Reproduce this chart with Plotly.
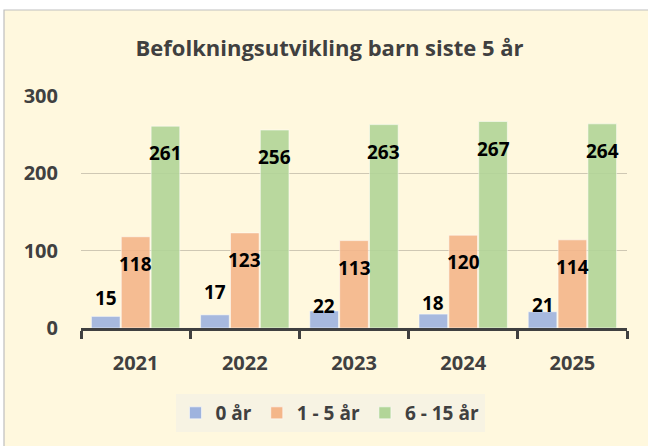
import plotly.graph_objects as go

years = ["2021", "2022", "2023", "2024", "2025"]
age_0 = [15, 17, 22, 18, 21]
age_1_5 = [118, 123, 113, 120, 114]
age_6_15 = [261, 256, 263, 267, 264]
series_names = ["0 år", "1 - 5 år", "6 - 15 år"]
y_ticks = [0, 100, 200, 300]

# label nudges (pixels) for the "0 år" labels, which sit above their bars
zero_label_lift = [18, 23, 5, 11, 7]

W, H = 648, 446
ML, MR, MT, MB = 81, 21, 96, 118
BARGAP, GROUPGAP = 0.18, 0.04
FONT = "Open Sans"
DARK = "#404040"

colors = ["#9EB3DE", "#F4B68A", "#B2D598"]
series = [age_0, age_1_5, age_6_15]

fig = go.Figure()
for name, vals, col in zip(series_names, series, colors):
    fig.add_trace(go.Bar(
        x=years, y=vals, name=name,
        marker=dict(color=col, opacity=0.9,
                    line=dict(color="rgba(255,255,255,0.55)", width=1)),
        hoverinfo="skip",
    ))

plot_w = W - ML - MR
cat_w = plot_w / len(years)
slot = cat_w * (1 - BARGAP) / len(series)
shifts = [-slot, 0, slot]

annotations = []
for si, vals in enumerate(series):
    for i, (yr, v) in enumerate(zip(years, vals)):
        ys = zero_label_lift[i] if si == 0 else -27
        annotations.append(dict(
            x=i, y=v, xref="x", yref="y", text=str(v), showarrow=False,
            xshift=shifts[si], yshift=ys, xanchor="center", yanchor="middle",
            font=dict(family=FONT, size=19, color="#000000", weight=700),
        ))

plot_h = H - MT - MB
# chart-area background and border (extends past the right/bottom edge)
shapes = [dict(
    type="rect", xref="paper", yref="paper", layer="below",
    x0=(4 - ML) / plot_w, x1=(W + 20 - ML) / plot_w,
    y0=-(H + 20 - (H - MB)) / plot_h, y1=((H - MB) - 10) / plot_h,
    fillcolor="#FFF8DE", line=dict(color="#BFBFBF", width=1.2),
)]

fig.update_layout(
    width=W, height=H,
    margin=dict(l=ML, r=MR, t=MT, b=MB, pad=0),
    paper_bgcolor="#FFFFFF", plot_bgcolor="rgba(0,0,0,0)",
    barmode="group", bargap=BARGAP, bargroupgap=GROUPGAP,
    title=dict(text="Befolkningsutvikling barn siste 5 år",
               x=329.5 / W, xanchor="center", y=(H - 48) / H, yanchor="middle",
               yref="container",
               font=dict(family=FONT, size=22, color=DARK, weight=700)),
    font=dict(family=FONT, color=DARK),
    showlegend=True,
    legend=dict(orientation="h", x=(330 - ML) / plot_w, xanchor="center",
                y=-(413 - (H - MB)) / plot_h, yanchor="middle",
                bgcolor="#F7F3E3", borderwidth=0,
                font=dict(family=FONT, size=19, color=DARK, weight=700)),
    annotations=annotations, shapes=shapes,
)
fig.update_xaxes(
    type="category", categoryorder="array", categoryarray=years,
    range=[-0.5, len(years) - 0.5], automargin=False,
    showgrid=False, showline=True, linewidth=3, linecolor=DARK,
    ticks="outside", tickson="boundaries", ticklen=8, tickwidth=3, tickcolor=DARK,
    tickfont=dict(family=FONT, size=20, color=DARK, weight=700),
    tickangle=0, ticklabelstandoff=15,
)
fig.update_yaxes(
    range=[0, 300], tickvals=y_ticks, showgrid=True, gridcolor="#CFC8B4", gridwidth=1,
    zeroline=False, showline=False, automargin=False,
    tickfont=dict(family=FONT, size=20, color=DARK, weight=700),
    ticklabelstandoff=22,
)

fig.write_html("out.html", config={"displayModeBar": False},
               post_script="document.body.style.margin='0';document.body.style.overflow='hidden';")
